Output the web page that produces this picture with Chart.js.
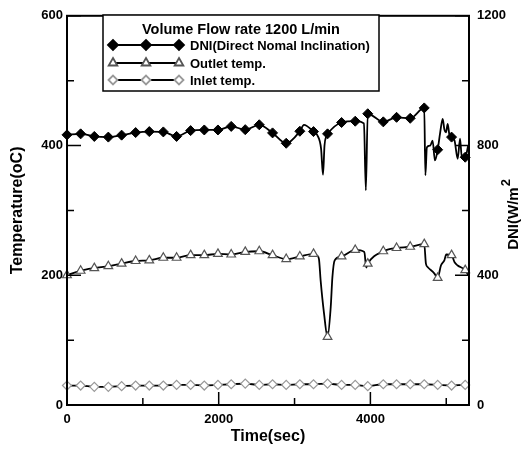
<!DOCTYPE html>
<html>
<head>
<meta charset="utf-8">
<script src="https://cdn.jsdelivr.net/npm/chart.js"></script>
<style>
  body { margin: 0; background: #fff; }
  canvas { display: block; }
</style>
</head>
<body>
<canvas id="chart" width="522" height="449"></canvas>
<script>
// tick values
const xTicks = [0, 2000, 4000];
const xMinor = [1000, 3000, 5000];
const tempTicks = [0, 200, 400, 600];
const tempMinor = [100, 300, 500];
const dniTicks = [0, 400, 800, 1200];
const dniMinor = [200, 600, 1000];

// times (sec) where the markers sit
const markTime = [0, 180, 360, 545, 720, 905, 1085, 1270, 1445, 1630, 1810, 1990, 2165, 2350, 2535,
  2710, 2890, 3070, 3250, 3435, 3620, 3800, 3965, 4170, 4345, 4525, 4710, 4887, 5070, 5250];

// DNI (W/m2) at the markers
const dniMarks = [833, 836, 828, 826, 832, 840, 843, 842, 828, 846, 848, 848, 859, 849, 864,
  839, 807, 844, 843, 836, 871, 875, 898, 873, 887, 884, 916, 787, 826, 764];
// extra DNI points between markers (dips, noise)
const dniExtraTime = [3124, 3300, 3350, 3375, 3395, 3420, 3915, 3940, 4725, 4745, 4790, 4820, 4851,
  4920, 4953, 4975, 4997, 5019, 5040, 5110, 5151, 5182, 5205, 5290];
const dniExtra = [864, 832, 790, 710, 800, 830, 868, 662, 708, 795, 800, 815, 754,
  840, 882, 850, 841, 867, 835, 815, 759, 821, 764, 800];

// outlet temperature (oC)
const outletMarks = [200, 207, 211, 214, 218, 222, 223, 227, 227, 231, 231, 233, 232, 236, 237,
  231, 225, 229, 233, 105, 229, 239, 218, 237, 242, 244, 248, 196, 231, 208];
const outletExtraTime = [3300, 3322, 3344, 3389, 3477, 3499, 3529, 3920, 3945, 4732, 4760, 4842,
  4930, 4975, 5000, 5110, 5151, 5290];
const outletExtra = [230, 225, 192, 141, 151, 197, 223, 236, 212, 218, 212, 203,
  215, 223, 232, 220, 215, 200];

// inlet temperature (oC)
const inletMarks = [30, 30, 28, 28, 29, 30, 30, 30, 31, 31, 30, 31, 32, 33, 31,
  32, 31, 32, 32, 33, 31, 31, 29, 32, 32, 32, 32, 31, 30, 31];
const inletExtraTime = [5300];
const inletExtra = [31];

const FONT = "'Liberation Sans', Arial, sans-serif";

function pts(t, v) {
  return t.map((x, i) => ({ x: x, y: v[i] }));
}
function merged(t1, v1, t2, v2) {
  return pts(t1, v1).concat(pts(t2, v2)).sort((a, b) => a.x - b.x);
}

// inward tick marks + frame
const frameTicks = {
  id: 'frameTicks',
  afterDatasetsDraw(chart) {
    const { ctx, chartArea: a, scales } = chart;
    ctx.save();
    ctx.strokeStyle = '#000';
    ctx.lineWidth = 2;
    ctx.strokeRect(a.left, a.top, a.right - a.left, a.bottom - a.top);
    ctx.lineWidth = 1.5;
    ctx.beginPath();
    const xs = (list, len) => list.forEach(v => {
      const px = scales.x.getPixelForValue(v);
      ctx.moveTo(px, a.bottom); ctx.lineTo(px, a.bottom - len);
    });
    const ys = (scale, list, len, left) => list.forEach(v => {
      const py = scale.getPixelForValue(v);
      const x0 = left ? a.left : a.right;
      ctx.moveTo(x0, py); ctx.lineTo(left ? x0 + len : x0 - len, py);
    });
    xs(xTicks, 13); xs(xMinor, 7);
    ys(scales.y, tempTicks, 14, true); ys(scales.y, tempMinor, 7, true);
    ys(scales.y2, dniTicks, 14, false); ys(scales.y2, dniMinor, 7, false);
    ctx.stroke();

    // right axis title, reading bottom to top
    ctx.translate(512, 215);
    ctx.rotate(-Math.PI / 2);
    ctx.fillStyle = '#000';
    ctx.textBaseline = 'middle';
    const main = 'DNI(W/m';
    ctx.font = 'bold 15px ' + FONT;
    const w1 = ctx.measureText(main).width;
    ctx.font = 'bold 13px ' + FONT;
    const w2 = ctx.measureText('2').width;
    const x0 = -(w1 + w2) / 2;
    ctx.font = 'bold 15px ' + FONT;
    ctx.textAlign = 'left';
    ctx.fillText(main, x0, 2);
    ctx.font = 'bold 13px ' + FONT;
    ctx.fillText('2', x0 + w1 + 1, -6);
    ctx.restore();
  }
};

// boxed legend inside the plot
const boxLegend = {
  id: 'boxLegend',
  afterDraw(chart) {
    const ctx = chart.ctx;
    ctx.save();
    ctx.fillStyle = '#fff';
    ctx.fillRect(103, 15, 276, 76);
    ctx.strokeStyle = '#000';
    ctx.lineWidth = 1.5;
    ctx.strokeRect(103, 15, 276, 76);
    ctx.fillStyle = '#000';
    ctx.textBaseline = 'middle';
    ctx.textAlign = 'center';
    ctx.font = 'bold 14.5px ' + FONT;
    ctx.fillText('Volume Flow rate 1200 L/min', 241, 30);
    const rows = [
      { text: 'DNI(Direct Nomal Inclination)', y: 45, style: 'rectRot', r: 5, fill: '#000', stroke: '#000' },
      { text: 'Outlet temp.', y: 63, style: 'triangle', r: 5, fill: '#fff', stroke: '#555' },
      { text: 'Inlet temp.', y: 80, style: 'rectRot', r: 4.5, fill: '#fff', stroke: '#999' }
    ];
    rows.forEach(row => {
      ctx.strokeStyle = '#000';
      ctx.lineWidth = 1.8;
      ctx.beginPath();
      ctx.moveTo(113, row.y); ctx.lineTo(179, row.y);
      ctx.stroke();
      [113, 146, 179].forEach(px => {
        ctx.fillStyle = row.fill;
        ctx.strokeStyle = row.stroke;
        Chart.helpers.drawPoint(ctx, { pointStyle: row.style, radius: row.r, borderWidth: 1.2, rotation: 0 }, px, row.y);
      });
      ctx.fillStyle = '#000';
      ctx.textAlign = 'left';
      ctx.font = 'bold 13px ' + FONT;
      ctx.fillText(row.text, 190, row.y + 1);
    });
    ctx.restore();
  }
};

const tickFont = { family: FONT, size: 13, weight: 'bold' };
const plain = v => String(v);

function fixTicks(list) {
  return scale => { scale.ticks = list.map(v => ({ value: v })); };
}

new Chart(document.getElementById('chart'), {
  type: 'scatter',
  data: {
    datasets: [
      { data: pts(markTime, dniMarks), yAxisID: 'y2', showLine: false, pointStyle: 'rectRot',
        pointRadius: 5, pointBackgroundColor: '#000', pointBorderColor: '#000', pointBorderWidth: 1, order: 0, clip: false },
      { data: pts(markTime, outletMarks), yAxisID: 'y', showLine: false, pointStyle: 'triangle',
        pointRadius: 5, pointBackgroundColor: '#fff', pointBorderColor: '#555', pointBorderWidth: 1.2, order: 0, clip: false },
      { data: pts(markTime, inletMarks), yAxisID: 'y', showLine: false, pointStyle: 'rectRot',
        pointRadius: 4.5, pointBackgroundColor: '#fff', pointBorderColor: '#999', pointBorderWidth: 1.2, order: 0, clip: false },
      { data: merged(markTime, dniMarks, dniExtraTime, dniExtra), yAxisID: 'y2', showLine: true,
        pointRadius: 0, borderColor: '#000', borderWidth: 1.8, cubicInterpolationMode: 'monotone', order: 1 },
      { data: merged(markTime, outletMarks, outletExtraTime, outletExtra), yAxisID: 'y', showLine: true,
        pointRadius: 0, borderColor: '#000', borderWidth: 1.8, cubicInterpolationMode: 'monotone', order: 1 },
      { data: merged(markTime, inletMarks, inletExtraTime, inletExtra), yAxisID: 'y', showLine: true,
        pointRadius: 0, borderColor: '#000', borderWidth: 1.8, cubicInterpolationMode: 'monotone', order: 1 }
    ]
  },
  options: {
    responsive: false,
    animation: false,
    devicePixelRatio: 1,
    layout: { padding: { top: 15, left: 0, right: 0, bottom: 0 } },
    plugins: { legend: { display: false }, tooltip: { enabled: false } },
    scales: {
      x: {
        type: 'linear', min: 0, max: 5300,
        afterBuildTicks: fixTicks(xTicks),
        afterFit: s => { s.height = 44; },
        grid: { display: false, drawTicks: false },
        border: { display: false },
        ticks: { font: tickFont, color: '#000', padding: 7, maxRotation: 0, callback: plain },
        title: { display: true, text: 'Time(sec)', color: '#000', font: { family: FONT, size: 16, weight: 'bold' }, padding: { top: 0, bottom: 3 } }
      },
      y: {
        position: 'left', min: 0, max: 600,
        afterBuildTicks: fixTicks(tempTicks),
        afterFit: s => { s.width = 67; },
        grid: { display: false, drawTicks: false },
        border: { display: false },
        ticks: { font: tickFont, color: '#000', padding: 4, callback: plain },
        title: { display: true, text: 'Temperature(oC)', color: '#000', font: { family: FONT, size: 16, weight: 'bold' }, padding: { top: 8, bottom: 0 } }
      },
      y2: {
        position: 'right', min: 0, max: 1200,
        afterBuildTicks: fixTicks(dniTicks),
        afterFit: s => { s.width = 53; },
        grid: { display: false, drawTicks: false },
        border: { display: false },
        ticks: { font: tickFont, color: '#000', padding: 8, callback: plain }
      }
    }
  },
  plugins: [frameTicks, boxLegend]
});
</script>
</body>
</html>
